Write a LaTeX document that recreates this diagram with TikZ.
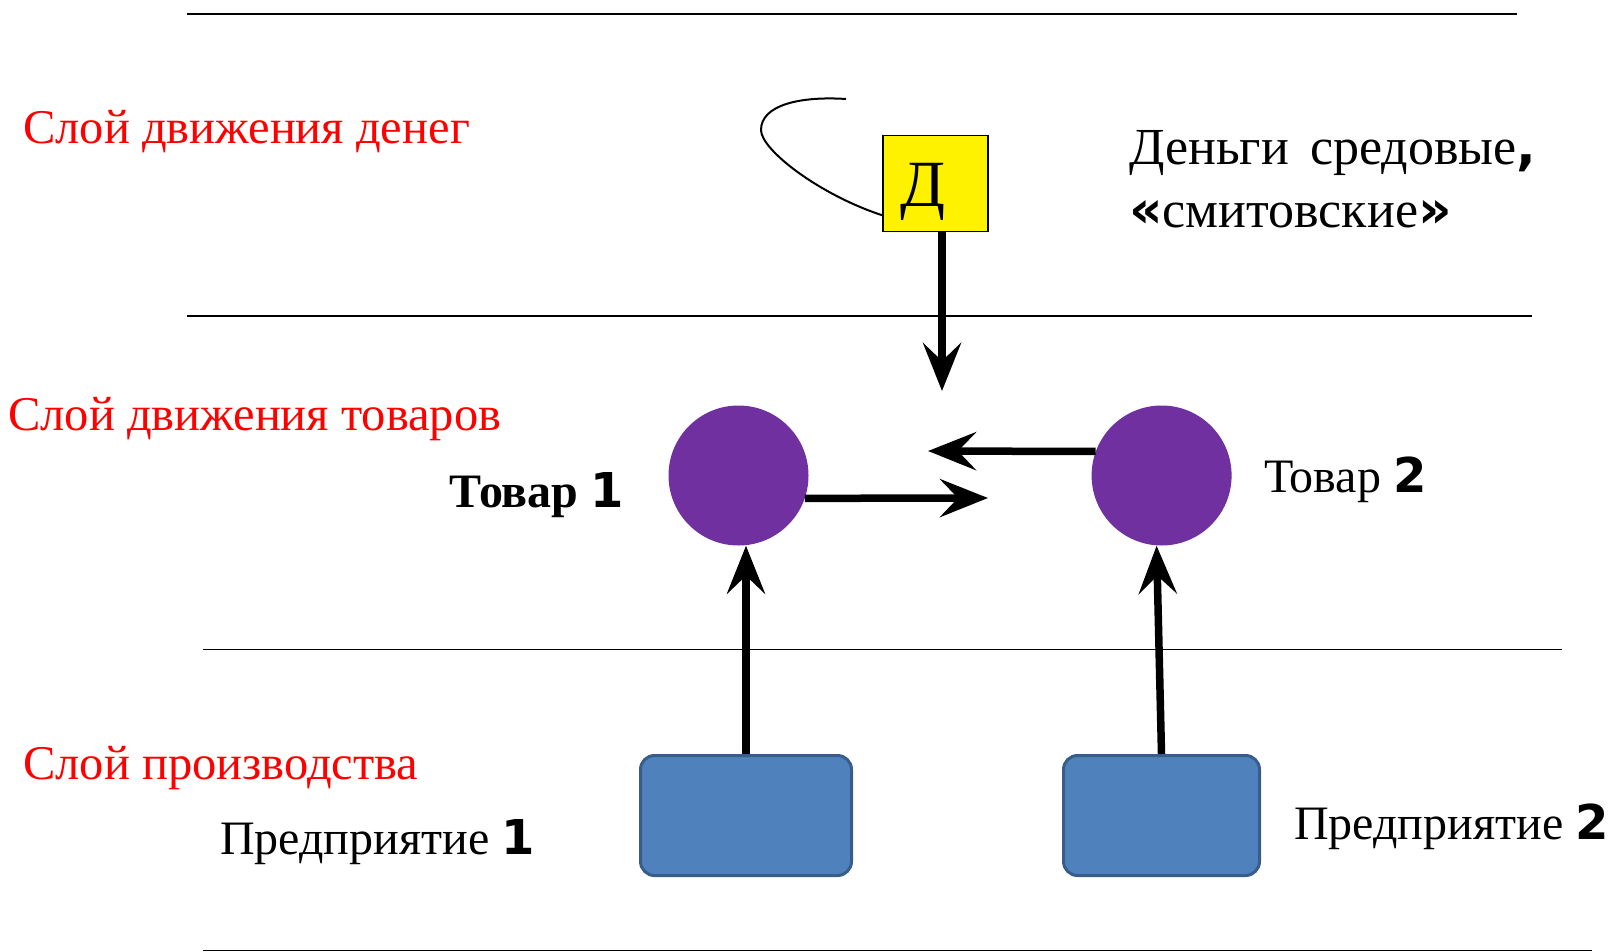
\documentclass[tikz,border=0pt]{standalone}
\usepackage{fontspec}
\setmainfont{Liberation Serif}
\newfontfamily\digitfont{DejaVu Sans}
\usetikzlibrary{arrows.meta,calc}
\definecolor{goodpurple}{HTML}{7030A0}
\definecolor{firmblue}{HTML}{4F81BD}
\definecolor{firmborder}{HTML}{385D8A}
\newcommand{\bd}[1]{{\digitfont\bfseries #1}}
\newcommand{\widesp}{\spaceskip=21pt\relax}
\begin{document}
\begin{tikzpicture}[x=1pt,y=-1pt,
  layerline/.style={line width=1.5pt},
  bigtext/.style={anchor=base west, inner sep=0pt, font=\fontsize{48}{56}\selectfont},
  redlabel/.style={anchor=base west, inner sep=0pt, text=red, font=\fontsize{48.5}{56}\selectfont},
  moneytext/.style={anchor=base west, inner sep=0pt, font=\fontsize{52}{60}\selectfont},
  good/.style={circle, fill=goodpurple, minimum size=140pt, inner sep=0pt},
  firm/.style={rectangle, rounded corners=14pt, draw=firmborder, line width=3pt, fill=firmblue,
               minimum height=120pt, inner sep=0pt},
  moneybox/.style={rectangle, draw=black, line width=1.5pt, fill=yellow,
               minimum width=105pt, minimum height=96pt, inner sep=0pt,
               text height=47pt, text depth=0pt,
               font=\fontsize{66}{66}\selectfont},
  flow/.style={line width=7.5pt, -{Stealth[length=48pt,width=38pt,inset=18pt]}},
  thinline/.style={line width=2pt}
]
\useasboundingbox (0,0) rectangle (1614,952);

% layer lines
\draw[layerline] (187,14) -- (1517,14);
\draw[layerline] (187,316) -- (1532,316);
\draw[layerline] (203,649.5) -- (1562,649.5);
\draw[layerline] (203,950.5) -- (1592,950.5);

% layer labels
\node[redlabel] (lmoney) at (23,144) {Слой движения денег};
\node[redlabel] (lgoods) at (8,430) {Слой движения товаров};
\node[redlabel] (lprod) at (23,779) {Слой производства};

% money
\node[moneybox] (d) at (935.5,183.5) {\hspace*{-26pt}Д};
\draw[thinline] ($(d.south west)+(0,-17)$) .. controls (820,195) and (761,150) .. (761,130)
  .. controls (761,105) and (800,96) .. (846,99);
\coordinate (dtip) at (942,391);
\draw[flow] (d.south -| dtip) -- (dtip);
\node[moneytext] (money1) at (1129,165) {\widesp Деньги средовые\bd{,}};
\node[moneytext] (money2) at (1129,227) {\bd{«}смитовские\bd{»}};

% goods
\node[good] (c1) at (738.5,475.5) {};
\node[good] (c2) at (1161.6,475.5) {};
\node[bigtext] (t1) at (449,507) {\bfseries Товар \bd{1}};
\node[bigtext] (t2) at (1264,492) {Товар \bd{2}};
\coordinate (m1) at (988,498);
\coordinate (m2) at (928,451);
\draw[flow] (c1.-19) -- (m1);
\draw[flow] (c2.160) -- (m2);

% firms
\node[firm, minimum width=211pt] (r1) at (746,815.5) {};
\node[firm, minimum width=196pt] (r2) at (1161.5,815.5) {};
\node[bigtext] (p1) at (220,854) {Предприятие \bd{1}};
\node[bigtext] (p2) at (1294,839) {Предприятие \bd{2}};
\draw[flow] (r1.north) -- (c1.south -| r1.north);
\draw[flow] (r2.north) -- ([xshift=-5pt]c2.south);
\end{tikzpicture}
\end{document}
